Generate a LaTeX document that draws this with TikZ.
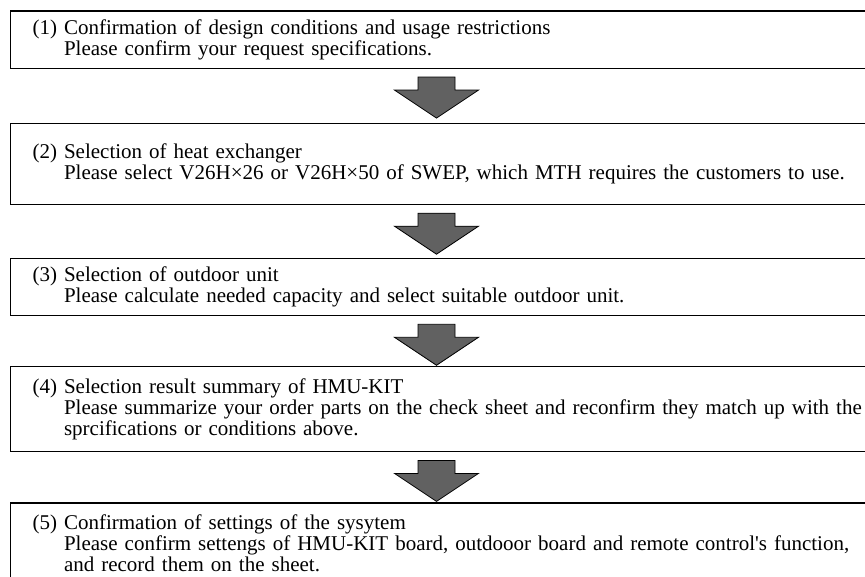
\documentclass[tikz,border=0pt]{standalone}
\usepackage{fontspec}
\setmainfont{Liberation Serif}
\usetikzlibrary{positioning,calc}
\tikzset{
  stepbox/.style={draw, line width=1.1pt, rectangle, text width=850pt, inner xsep=22.5pt, inner ysep=0pt, align=left, font=\fontsize{21}{21}\selectfont},
  blockarrow/.style={draw, line width=0.8pt, fill=black!62, line join=miter}
}
\newcommand{\flowarrow}[1]{%
  \filldraw[blockarrow] ($(#1.south west)+(408.5,-8)$) -- ++(37,0) -- ++(0,-13) -- ++(23.5,0)
    -- ++(-42,-28) -- ++(-42,28) -- ++(23.5,0) -- cycle;}
\begin{document}
\begin{tikzpicture}[x=1pt, y=1pt]
\clip (0,0) rectangle (865,-577);
\node[stepbox, anchor=north west, minimum height=57.5pt] (b1) at (9.5,-10.5)
  {(1) Confirmation of design conditions and usage restrictions\\
   \phantom{(1)~}Please confirm your request specifications.};
\node[stepbox, below=54pt of b1.south west, anchor=north west, minimum height=81pt] (b2)
  {(2) Selection of heat exchanger\\
   \phantom{(2)~}Please select V26H×26 or V26H×50 of SWEP, which MTH requires the customers to use.};
\node[stepbox, below=53pt of b2.south west, anchor=north west, minimum height=57pt] (b3)
  {(3) Selection of outdoor unit\\
   \phantom{(3)~}Please calculate needed capacity and select suitable outdoor unit.};
\node[stepbox, below=50pt of b3.south west, anchor=north west, minimum height=85pt] (b4)
  {(4) Selection result summary of HMU-KIT\\
   \phantom{(4)~}Please summarize your order parts on the check sheet and reconfirm they match up with the\\
   \phantom{(4)~}sprcifications or conditions above.};
\node[stepbox, below=50pt of b4.south west, anchor=north west, minimum height=85pt] (b5)
  {(5) Confirmation of settings of the sysytem\\
   \phantom{(5)~}Please confirm settengs of HMU-KIT board, outdooor board and remote control\textquotesingle s function,\\
   \phantom{(5)~}and record them on the sheet.};
\flowarrow{b1}
\flowarrow{b2}
\flowarrow{b3}
\flowarrow{b4}
\end{tikzpicture}
\end{document}
